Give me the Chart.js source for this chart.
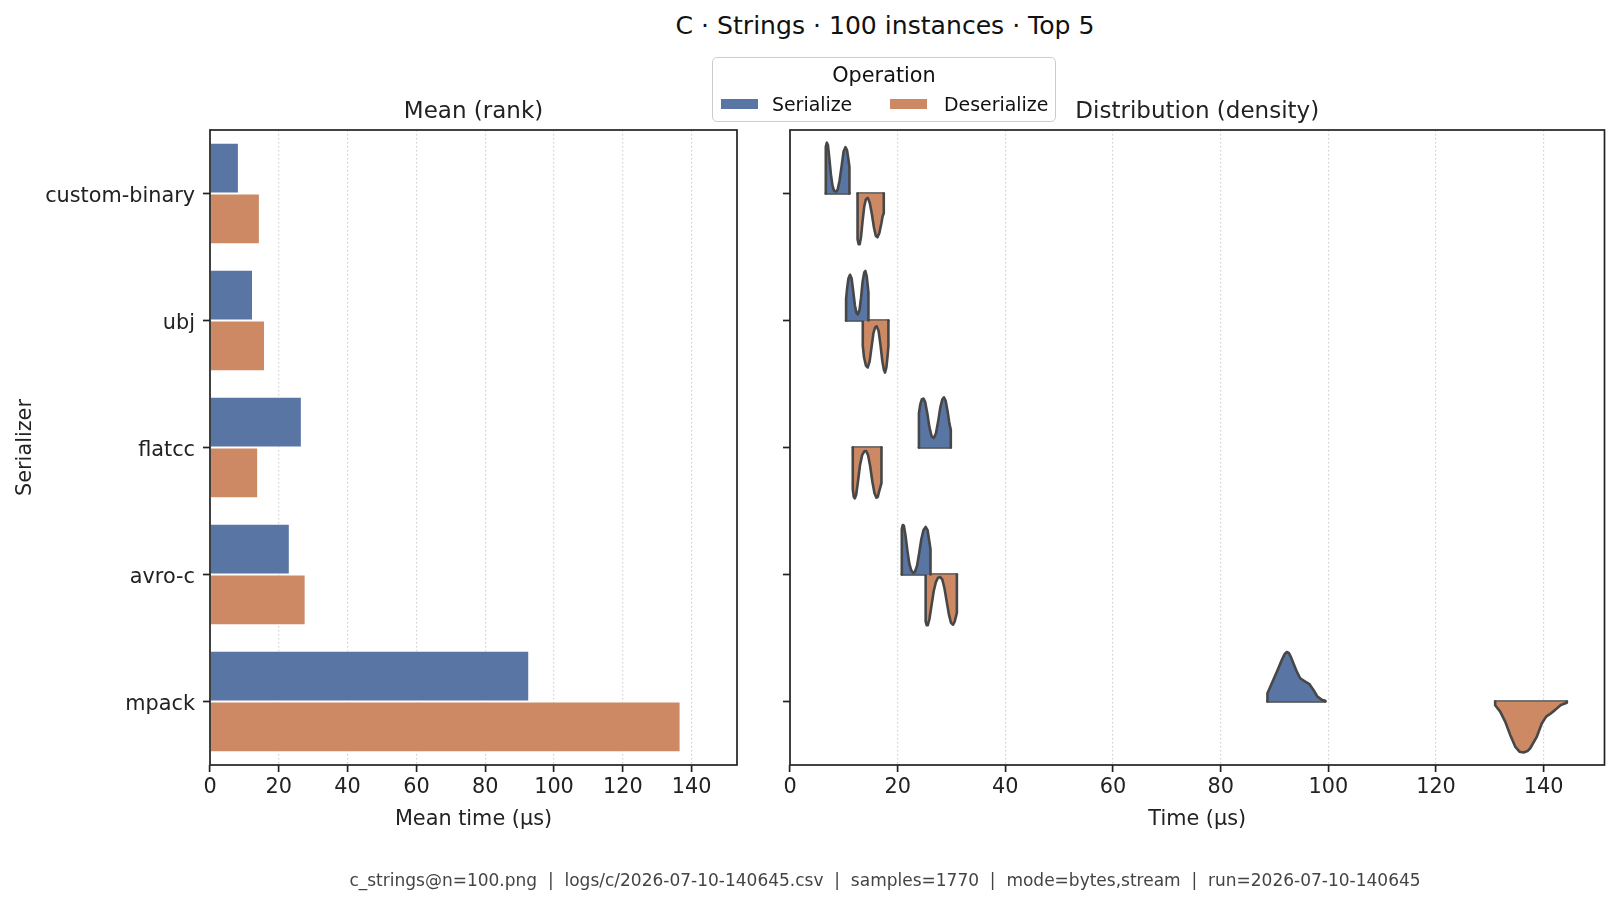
<!DOCTYPE html>
<html>
<head>
<meta charset="utf-8">
<script src="https://cdn.jsdelivr.net/npm/chart.js@4.4.1/dist/chart.umd.min.js"></script>
<style>
  html, body { margin: 0; padding: 0; background: #ffffff; }
  body { width: 1619px; height: 905px; position: relative; overflow: hidden; font-family: "DejaVu Sans", sans-serif; color: #222; }
  canvas { position: absolute; top: 0; }
  #title { position: absolute; left: 885px; top: 11px; transform: translateX(-50%); font-size: 25.1px; line-height: 30px; white-space: nowrap; color: #111; }
  #legend { position: absolute; left: 712px; top: 57px; width: 342px; height: 63px; border: 1.6px solid #cccccc; border-radius: 5px; background: rgba(255,255,255,0.85); }
  #legend .ltitle { position: absolute; left: 0; width: 100%; top: 4px; text-align: center; font-size: 20.8px; line-height: 26px; color: #111; }
  #legend .sw { position: absolute; top: 41px; width: 37px; height: 10px; }
  #legend .lt { position: absolute; top: 34px; font-size: 18.9px; line-height: 24px; color: #111; white-space: nowrap; }
  #footer { position: absolute; left: 885px; top: 869px; transform: translateX(-50%); font-size: 17px; line-height: 22px; white-space: pre; color: #444; }
</style>
</head>
<body>
<div id="title">C · Strings · 100 instances · Top 5</div>
<canvas id="left" width="760" height="905" style="left:0px;width:760px;height:905px"></canvas>
<canvas id="right" width="859" height="905" style="left:760px;width:859px;height:905px"></canvas>
<div id="legend">
  <div class="ltitle">Operation</div>
  <div class="sw" style="left:8px;background:#5975a4"></div>
  <div class="lt" id="lt0" style="left:59px">Serialize</div>
  <div class="sw" style="left:177px;background:#cc8963"></div>
  <div class="lt" id="lt1" style="left:231px">Deserialize</div>
</div>
<div id="footer">c_strings@n=100.png  |  logs/c/2026-07-10-140645.csv  |  samples=1770  |  mode=bytes,stream  |  run=2026-07-10-140645</div>
<script>
// ---------------- data ----------------
const serializers = ['custom-binary', 'ubj', 'flatcc', 'avro-c', 'mpack'];
const operations = ['Serialize', 'Deserialize'];
const meanSerialize = [8.4, 12.5, 26.7, 23.2, 92.8];
const meanDeserialize = [14.5, 16.0, 14.0, 27.8, 136.8];
const timeTicks = [0, 20, 40, 60, 80, 100, 120, 140];

// density profiles: [time (µs), half-width (category units)]
const densSerCustomBinary = [[6.65,0],[6.65,0.37],[6.85,0.40],[7.05,0.38],[7.3,0.28],[7.6,0.15],[7.9,0.06],[8.2,0.02],[8.55,0.015],[8.85,0.03],[9.2,0.10],[9.6,0.22],[9.95,0.33],[10.3,0.365],[10.6,0.34],[10.85,0.27],[11.04,0.21],[11.04,0]];
const densDesCustomBinary = [[12.55,0],[12.55,0.36],[12.75,0.40],[12.95,0.40],[13.2,0.34],[13.5,0.21],[13.8,0.10],[14.1,0.045],[14.45,0.035],[14.8,0.07],[15.2,0.16],[15.6,0.27],[15.95,0.335],[16.25,0.345],[16.6,0.31],[16.95,0.24],[17.2,0.18],[17.42,0.155],[17.42,0]];
const densSerUbj = [[10.42,0],[10.42,0.17],[10.6,0.25],[10.85,0.33],[11.15,0.36],[11.45,0.33],[11.75,0.23],[12.05,0.12],[12.35,0.06],[12.6,0.047],[12.9,0.08],[13.2,0.18],[13.5,0.31],[13.8,0.38],[14.0,0.39],[14.25,0.35],[14.45,0.27],[14.57,0.22],[14.57,0]];
const densDesUbj = [[13.52,0],[13.52,0.2],[13.75,0.29],[14.1,0.355],[14.45,0.37],[14.8,0.32],[15.15,0.21],[15.5,0.10],[15.8,0.055],[16.1,0.045],[16.45,0.08],[16.8,0.19],[17.15,0.32],[17.45,0.39],[17.65,0.41],[17.9,0.37],[18.1,0.29],[18.28,0.2],[18.28,0]];
const densSerFlatcc = [[23.95,0],[23.95,0.27],[24.2,0.34],[24.5,0.38],[24.8,0.385],[25.1,0.36],[25.5,0.27],[25.9,0.16],[26.3,0.09],[26.7,0.075],[27.1,0.11],[27.5,0.2],[27.9,0.31],[28.3,0.38],[28.6,0.395],[28.9,0.37],[29.3,0.28],[29.6,0.19],[29.87,0.14],[29.87,0]];
const densDesFlatcc = [[11.66,0],[11.66,0.33],[11.85,0.39],[12.05,0.40],[12.3,0.37],[12.65,0.26],[13.0,0.14],[13.4,0.06],[13.8,0.03],[14.15,0.028],[14.5,0.06],[14.9,0.15],[15.3,0.27],[15.7,0.36],[16.05,0.395],[16.3,0.39],[16.6,0.34],[16.99,0.28],[16.99,0]];
const densSerAvro = [[20.77,0],[20.77,0.36],[20.95,0.39],[21.15,0.385],[21.45,0.31],[21.8,0.19],[22.15,0.09],[22.5,0.035],[22.85,0.013],[23.2,0.02],[23.6,0.07],[24.0,0.17],[24.4,0.28],[24.8,0.35],[25.2,0.375],[25.55,0.35],[25.85,0.27],[26.1,0.2],[26.1,0]];
const densDesAvro = [[25.2,0],[25.2,0.37],[25.4,0.40],[25.6,0.40],[25.9,0.35],[26.3,0.24],[26.7,0.13],[27.1,0.06],[27.5,0.025],[27.9,0.02],[28.3,0.04],[28.7,0.11],[29.1,0.21],[29.5,0.31],[29.9,0.38],[30.3,0.395],[30.6,0.37],[31.0,0.30],[31.0,0]];
const densSerMpack = [[88.69,0],[88.69,0.065],[89.5,0.144],[90.44,0.235],[91.37,0.328],[91.9,0.375],[92.29,0.39],[92.7,0.38],[93.1,0.345],[93.53,0.30],[94.15,0.235],[94.77,0.183],[95.7,0.157],[96.5,0.136],[97.24,0.091],[97.98,0.039],[98.8,0.013],[99.43,0.005],[99.43,0]];
const densDesMpack = [[130.99,0],[130.99,0.03],[131.92,0.08],[132.85,0.158],[133.78,0.263],[134.71,0.355],[135.5,0.395],[136.26,0.402],[137.0,0.39],[137.5,0.368],[138.74,0.276],[139.67,0.171],[140.47,0.119],[141.2,0.098],[142.14,0.066],[143.19,0.027],[144.3,0.01],[144.3,0]];

const densitySerialize = [densSerCustomBinary, densSerUbj, densSerFlatcc, densSerAvro, densSerMpack];
const densityDeserialize = [densDesCustomBinary, densDesUbj, densDesFlatcc, densDesAvro, densDesMpack];

// ---------------- style ----------------
const FONT = '"DejaVu Sans", sans-serif';
const COL_SER = '#5975a4';
const COL_DES = '#cc8963';
const INK = '#222222';
const GRID = '#d0d0d0';
const EDGE = '#474747';

const framePlugin = {
  id: 'frame',
  afterDraw(chart) {
    const {ctx, chartArea: a} = chart;
    ctx.save();
    ctx.strokeStyle = INK;
    ctx.lineWidth = 1.7;
    ctx.strokeRect(a.left, a.top, a.right - a.left, a.bottom - a.top);
    ctx.restore();
  }
};

function xScale(max, label) {
  return {
    type: 'linear', min: 0, max: max,
    afterBuildTicks: s => { s.ticks = timeTicks.map(v => ({value: v})); },
    afterFit: s => { s.height = 140; },
    grid: { color: GRID, lineWidth: 1.2, drawTicks: true, tickLength: 7, tickColor: INK, tickWidth: 1.7, tickBorderDash: [] },
    border: { display: false, dash: [1.5, 2.5] },
    ticks: { font: { family: FONT, size: 20.8 }, color: INK, padding: 3, maxRotation: 0, autoSkip: false },
    title: { display: true, text: label, font: { family: FONT, size: 20.8 }, color: INK, padding: { top: 0, bottom: 73.4 } }
  };
}

function titleOpts(text) {
  return { display: true, text: text, fullSize: false, color: INK,
    font: { family: FONT, size: 23, weight: 'normal' }, padding: { top: 98.7, bottom: 3.7 } };
}

// ---------------- left: mean bars ----------------
new Chart(document.getElementById('left'), {
  type: 'bar',
  data: {
    labels: serializers,
    datasets: [
      { label: operations[0], data: meanSerialize, backgroundColor: COL_SER, borderColor: '#ffffff', borderWidth: 1, borderSkipped: 'start', categoryPercentage: 0.8, barPercentage: 1.0 },
      { label: operations[1], data: meanDeserialize, backgroundColor: COL_DES, borderColor: '#ffffff', borderWidth: 1, borderSkipped: 'start', categoryPercentage: 0.8, barPercentage: 1.0 }
    ]
  },
  options: {
    indexAxis: 'y',
    responsive: false, animation: false, devicePixelRatio: 1, events: [],
    layout: { padding: { left: 0, right: 23, top: 0, bottom: 0 } },
    plugins: { legend: { display: false }, tooltip: { enabled: false }, title: titleOpts('Mean (rank)') },
    scales: {
      x: xScale(153.2, 'Mean time (µs)'),
      y: {
        type: 'category', offset: true,
        afterFit: s => { s.width = 210; },
        grid: { drawOnChartArea: false, offset: false, drawTicks: true, tickLength: 7, tickColor: INK, tickWidth: 1.7 },
        border: { display: false },
        ticks: { font: { family: FONT, size: 20.8 }, color: INK, padding: 8, labelOffset: 3 },
        title: { display: true, text: 'Serializer', font: { family: FONT, size: 20.8 }, color: INK, padding: { top: 13.5, bottom: 0 } }
      }
    }
  },
  plugins: [framePlugin]
});

// ---------------- right: split density violins ----------------
function halfViolin(profile, idx, dir) {
  return profile.map(([t, d]) => ({ x: t, y: idx + dir * d }));
}
function baseLine(profile, idx) {
  return [{ x: profile[0][0], y: idx }, { x: profile[profile.length - 1][0], y: idx }];
}
const violinSets = [];
const baseSets = [];
serializers.forEach((name, i) => {
  [[densitySerialize[i], -1, COL_SER, operations[0]], [densityDeserialize[i], 1, COL_DES, operations[1]]].forEach(([prof, dir, col, op]) => {
    violinSets.push({ label: name + ' ' + op, data: halfViolin(prof, i, dir),
      fill: { value: i }, backgroundColor: col, borderColor: EDGE, borderWidth: 2.6,
      borderJoinStyle: 'round', borderCapStyle: 'round', pointRadius: 0, tension: 0 });
    baseSets.push({ label: name + ' ' + op + ' base', data: baseLine(prof, i),
      fill: false, borderColor: EDGE, borderWidth: 2.6, borderCapStyle: 'round',
      pointRadius: 0, tension: 0 });
  });
});

new Chart(document.getElementById('right'), {
  type: 'line',
  data: { datasets: violinSets.concat(baseSets) },
  options: {
    responsive: false, animation: false, devicePixelRatio: 1, events: [],
    layout: { padding: { left: 0, right: 14.5, top: 0, bottom: 0 } },
    plugins: { legend: { display: false }, tooltip: { enabled: false }, title: titleOpts('Distribution (density)') },
    scales: {
      x: xScale(151.3, 'Time (µs)'),
      y: {
        type: 'linear', min: -0.5, max: 4.5, reverse: true,
        afterBuildTicks: s => { s.ticks = serializers.map((_, i) => ({ value: i })); },
        afterFit: s => { s.width = 30; },
        grid: { drawOnChartArea: false, drawTicks: true, tickLength: 7, tickColor: INK, tickWidth: 1.7 },
        border: { display: false },
        ticks: { callback: () => '', padding: 0 }
      }
    }
  },
  plugins: [framePlugin]
});
</script>
</body>
</html>
